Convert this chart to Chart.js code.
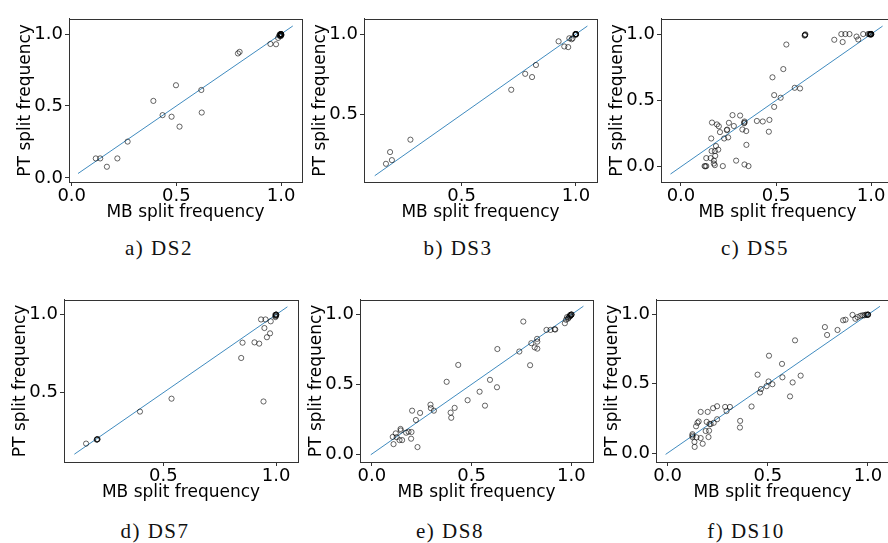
<!DOCTYPE html>
<html>
<head>
<meta charset="utf-8">
<script src="https://cdn.jsdelivr.net/npm/chart.js@4.4.1/dist/chart.umd.min.js"></script>
<style>
  html, body { margin: 0; padding: 0; background: #fff; }
  body { width: 888px; height: 543px; position: relative; overflow: hidden; }
  canvas { position: absolute; }
  .cap {
    position: absolute; transform: translate(-50%, -50%); white-space: nowrap;
    font-family: "Liberation Serif", "DejaVu Serif", serif; font-size: 21px; letter-spacing: 1.5px; color: #111;
  }
</style>
</head>
<body>
<div class="cap" style="left:159px;top:248px">a) DS2</div>
<div class="cap" style="left:458px;top:248px">b) DS3</div>
<div class="cap" style="left:755px;top:248px">c) DS5</div>
<div class="cap" style="left:155px;top:531px">d) DS7</div>
<div class="cap" style="left:450px;top:531px">e) DS8</div>
<div class="cap" style="left:746px;top:531px">f) DS10</div>
<script>
// tick labels shown on both axes
const tickValues = [0, 0.5, 1.0];

// split frequencies: MB (x) vs PT (y)
const ds2X = [0.115, 0.136, 0.168, 0.218, 0.267, 0.390, 0.434, 0.477, 0.498, 0.515, 0.619, 0.621, 0.794, 0.802, 0.949, 0.976, 0.986, 0.995, 0.998, 1, 1, 1, 1, 1, 0.993, 0.997, 1, 0.996, 0.992, 1.002];
const ds2Y = [0.135, 0.135, 0.077, 0.135, 0.252, 0.535, 0.436, 0.425, 0.644, 0.356, 0.611, 0.454, 0.865, 0.876, 0.931, 0.929, 0.973, 0.990, 0.985, 1, 1, 1, 0.995, 0.990, 0.995, 0.993, 0.997, 1, 0.988, 0.994];

const ds3X = [0.169, 0.187, 0.195, 0.276, 0.717, 0.778, 0.808, 0.825, 0.924, 0.949, 0.966, 0.971, 0.981, 0.985, 1, 1, 1, 1, 0.998, 0.997, 1];
const ds3Y = [0.194, 0.267, 0.217, 0.344, 0.654, 0.753, 0.733, 0.808, 0.955, 0.923, 0.919, 0.974, 0.968, 0.974, 1, 1, 1, 1, 0.997, 1, 0.996];

const ds5X = [0.652, 0.652, 0.650, 0.654, 0.554, 0.806, 0.843, 0.864, 0.886, 0.850, 0.923, 0.932, 0.958, 0.984, 0.990, 0.995, 1, 1, 1, 0.997,
  0.538, 0.481, 0.598, 0.626, 0.490, 0.524, 0.490, 0.465, 0.462, 0.399, 0.430, 0.334, 0.334, 0.332, 0.311, 0.271, 0.343, 0.323, 0.344, 0.334,
  0.355, 0.290, 0.220, 0.163, 0.189, 0.199, 0.205, 0.159, 0.227, 0.241, 0.243, 0.252, 0.248, 0.278, 0.184, 0.196, 0.178, 0.161, 0.180, 0.156,
  0.133, 0.173, 0.173, 0.178, 0.124, 0.133, 0.128, 0.993, 0.998, 1];
const ds5Y = [0.993, 0.993, 0.988, 0.998, 0.921, 0.957, 1, 1, 1, 0.940, 0.981, 0.959, 1, 1, 1, 1, 1, 1, 1, 1,
  0.736, 0.674, 0.595, 0.590, 0.540, 0.520, 0.451, 0.353, 0.264, 0.345, 0.341, 0.341, 0.333, 0.328, 0.386, 0.389, 0.269, 0.281, 0.165, 0.017,
  0.005, 0.046, 0.005, 0.333, 0.319, 0.305, 0.261, 0.213, 0.213, 0.276, 0.280, 0.331, 0.221, 0.307, 0.156, 0.129, 0.118, 0.118, 0.082, 0.065,
  0.065, 0.046, 0.024, 0.012, 0.005, 0.005, 0.003, 0.997, 0.996, 0.997];

const ds7X = [0.157, 0.206, 0.206, 0.208, 0.396, 0.536, 0.845, 0.851, 0.904, 0.925, 0.933, 0.953, 0.948, 0.959, 0.973, 0.976, 0.944, 0.997, 1, 1, 1, 1, 0.998, 0.204, 0.996];
const ds7Y = [0.173, 0.200, 0.200, 0.202, 0.378, 0.461, 0.722, 0.820, 0.822, 0.814, 0.969, 0.969, 0.914, 0.855, 0.880, 0.957, 0.443, 0.984, 1, 1, 1, 0.995, 0.990, 0.198, 0.998];

const ds8X = [0.105, 0.109, 0.120, 0.139, 0.144, 0.145, 0.152, 0.125, 0.172, 0.184, 0.199, 0.197, 0.202, 0.221, 0.229, 0.242, 0.294, 0.296, 0.311,
  0.375, 0.395, 0.398, 0.415, 0.433, 0.480, 0.540, 0.567, 0.592, 0.627, 0.629, 0.739, 0.759, 0.793, 0.799, 0.816, 0.829, 0.828, 0.829, 0.875,
  0.895, 0.916, 0.919, 0.967, 0.973, 0.978, 0.983, 0.990, 0.997, 1, 1, 1, 0.995, 0.986, 0.993];
const ds8Y = [0.123, 0.071, 0.148, 0.100, 0.180, 0.169, 0.100, 0.121, 0.153, 0.160, 0.158, 0.110, 0.311, 0.244, 0.050, 0.295, 0.354, 0.329, 0.311,
  0.518, 0.297, 0.260, 0.331, 0.639, 0.386, 0.447, 0.347, 0.532, 0.479, 0.753, 0.735, 0.950, 0.637, 0.795, 0.765, 0.756, 0.826, 0.806, 0.890,
  0.890, 0.895, 0.893, 0.938, 0.963, 0.982, 0.971, 0.986, 0.995, 1, 1, 1, 0.990, 0.978, 0.997];

const ds10X = [0.124, 0.124, 0.124, 0.134, 0.135, 0.144, 0.142, 0.149, 0.155, 0.165, 0.165, 0.175, 0.190, 0.195, 0.200, 0.204, 0.207, 0.209, 0.215,
  0.227, 0.230, 0.247, 0.247, 0.287, 0.294, 0.311, 0.361, 0.362, 0.419, 0.449, 0.461, 0.466, 0.494, 0.504, 0.506, 0.523, 0.571, 0.573, 0.611,
  0.624, 0.636, 0.664, 0.785, 0.796, 0.848, 0.876, 0.888, 0.923, 0.937, 0.948, 0.962, 0.973, 0.982, 0.990, 1, 1, 1, 0.995];
const ds10Y = [0.136, 0.126, 0.115, 0.080, 0.044, 0.113, 0.193, 0.218, 0.228, 0.297, 0.108, 0.067, 0.159, 0.225, 0.297, 0.115, 0.161, 0.209, 0.209,
  0.324, 0.218, 0.338, 0.244, 0.333, 0.303, 0.333, 0.184, 0.232, 0.336, 0.566, 0.437, 0.462, 0.483, 0.517, 0.703, 0.497, 0.644, 0.547, 0.409,
  0.510, 0.814, 0.559, 0.910, 0.853, 0.889, 0.959, 0.963, 0.998, 0.970, 0.982, 0.991, 0.995, 0.995, 1, 1, 1, 1, 0.997];

// extent of the y = x reference line
const ds2Line = [0.03, 1.056];
const ds3Line = [0.12, 1.05];
const ds5Line = [-0.055, 1.06];
const ds7Line = [0.105, 1.05];
const ds8Line = [-0.005, 1.06];
const ds10Line = [-0.01, 1.06];

// layout (frame = plot box in page pixels: left, top, right, bottom)
const yAxisW = 54, xAxisH = 41, padTop = 5, padRight = 5;
const frameColor = '#333';
const lineColor = 'rgba(31,119,180,0.85)';
const tickFont = { family: 'DejaVu Sans', size: 18 };
const titleFont = { family: 'DejaVu Sans', size: 17 };

const panels = [
  { x: ds2X, y: ds2Y, line: ds2Line, frame: [69, 11, 302, 182], xLim: [-0.013, 1.10], yLim: [-0.029, 1.106] },
  { x: ds3X, y: ds3Y, line: ds3Line, frame: [364, 11, 597, 182], xLim: [0.073, 1.092], yLim: [0.081, 1.095] },
  { x: ds5X, y: ds5Y, line: ds5Line, frame: [661, 11, 894, 182], xLim: [-0.105, 1.12], yLim: [-0.115, 1.115] },
  { x: ds7X, y: ds7Y, line: ds7Line, frame: [64, 292, 298, 462], xLim: [0.059, 1.097], yLim: [0.055, 1.095] },
  { x: ds8X, y: ds8Y, line: ds8Line, frame: [360, 292, 593, 462], xLim: [-0.059, 1.108], yLim: [-0.057, 1.106] },
  { x: ds10X, y: ds10Y, line: ds10Line, frame: [656, 292, 889, 462], xLim: [-0.058, 1.105], yLim: [-0.065, 1.107] }
];

// box round the plot area (top and right edges)
const framePlugin = {
  id: 'frame',
  afterDraw(chart) {
    const { ctx, chartArea: a } = chart;
    ctx.save();
    ctx.strokeStyle = frameColor;
    ctx.lineWidth = 1;
    ctx.strokeRect(Math.round(a.left) + 0.5, Math.round(a.top) + 0.5, Math.round(a.right - a.left), Math.round(a.bottom - a.top));
    ctx.restore();
  }
};

function axis(title, lim, which) {
  return {
    type: 'linear',
    min: lim[0],
    max: lim[1],
    afterBuildTicks: s => { s.ticks = tickValues.filter(v => v >= lim[0] && v <= lim[1]).map(v => ({ value: v })); },
    afterFit: s => { if (which === 'x') s.height = xAxisH; else s.width = yAxisW; },
    ticks: { font: tickFont, color: '#000', padding: which === 'x' ? 0 : 2, maxRotation: 0, autoSkip: false, callback: v => v.toFixed(1) },
    grid: { display: true, drawOnChartArea: false, drawTicks: true, tickLength: 4, color: frameColor },
    border: { display: true, color: frameColor, width: 1 },
    title: { display: true, text: title, font: titleFont, color: '#000', padding: 0 }
  };
}

panels.forEach(p => {
  const [L, T, R, B] = p.frame;
  const left = L - yAxisW, top = T - padTop;
  const cv = document.createElement('canvas');
  cv.width = R + padRight - left;
  cv.height = B + xAxisH - top;
  cv.style.left = left + 'px';
  cv.style.top = top + 'px';
  document.body.appendChild(cv);

  new Chart(cv, {
    type: 'scatter',
    data: {
      datasets: [
        {
          data: p.line.map(v => ({ x: v, y: v })),
          showLine: true, borderColor: lineColor, borderWidth: 1, pointRadius: 0, order: 1
        },
        {
          data: p.x.map((v, i) => ({ x: v, y: p.y[i] })),
          pointRadius: 2.6, pointBorderWidth: 1,
          pointBorderColor: 'rgba(0,0,0,0.6)', pointBackgroundColor: 'rgba(0,0,0,0)', order: 0
        }
      ]
    },
    options: {
      responsive: false,
      animation: false,
      layout: { padding: { top: padTop, right: padRight, left: 0, bottom: 0 } },
      plugins: { legend: { display: false }, tooltip: { enabled: false } },
      scales: {
        x: axis('MB split frequency', p.xLim, 'x'),
        y: axis('PT split frequency', p.yLim, 'y')
      }
    },
    plugins: [framePlugin]
  });
});
</script>
</body>
</html>
